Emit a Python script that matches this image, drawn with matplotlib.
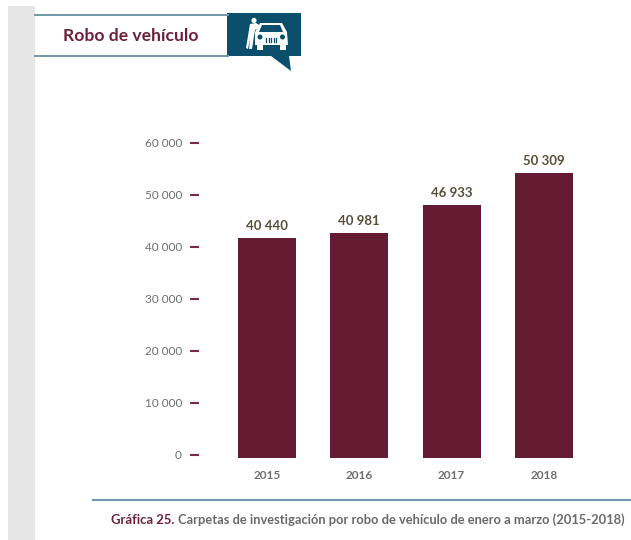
import matplotlib
matplotlib.use('Agg')
import matplotlib.pyplot as plt
from matplotlib.patches import Rectangle, Polygon, Circle

years = ['2015', '2016', '2017', '2018']
# printed labels
value_labels = ['40 440', '40 981', '46 933', '50 309']
# bar tops as drawn, read against the axis ticks (the bars start just below 0)
bar_tops = [41650, 42650, 48050, 54250]
bar_base = -700
y_ticks = [0, 10000, 20000, 30000, 40000, 50000, 60000]
y_tick_labels = ['0', '10 000', '20 000', '30 000', '40 000', '50 000', '60 000']
caption_bold = 'Gráfica 25.'
caption_rest = 'Carpetas de investigación por robo de vehículo de enero a marzo (2015-2018)'
title = 'Robo de vehículo'

W, H = 631, 540
wine = '#651c32'
teal = '#0b4f6c'
line_teal = '#6f99a8'
grey_text = '#6e6e6e'
label_col = '#574f3a'

fig = plt.figure(figsize=(W / 100, H / 100), dpi=100)

# page furniture, in pixel coordinates
bg = fig.add_axes([0, 0, 1, 1])
bg.set_xlim(0, W)
bg.set_ylim(H, 0)
bg.axis('off')
bg.add_patch(Rectangle((8, 6), 27, 534, color='#e6e6e6', lw=0))
bg.plot([35, 228], [14.5, 14.5], color=line_teal, lw=1.4)
bg.plot([35, 228], [55.5, 55.5], color=line_teal, lw=1.4)
bg.plot([93, 631], [500, 500], color=line_teal, lw=1.5)
bg.add_patch(Rectangle((227, 12.5), 74, 43.5, color=teal, lw=0))
bg.add_patch(Polygon([(271, 56), (291, 71), (289, 56)], color=teal, lw=0))
bg.text(63, 36, title, fontsize=12.6, fontweight='bold', color='#6d2138',
        family='Lato', va='center', ha='left')

# car icon
bg.add_patch(Polygon([(255, 32), (260, 23), (282, 23), (287, 32), (288, 45), (255, 45)], color='white', lw=0))
bg.add_patch(Polygon([(259, 32), (262, 25), (280, 25), (283, 32)], color=teal, lw=0))
bg.add_patch(Rectangle((257, 44), 6, 5.5, color='white', lw=0))
bg.add_patch(Rectangle((280, 44), 6, 5.5, color='white', lw=0))
bg.add_patch(Circle((260, 37), 2.5, fc=teal, ec='none'))
bg.add_patch(Circle((282.5, 37), 2.5, fc=teal, ec='none'))
for gx in (266, 268.5, 271, 273.5, 276):
    bg.plot([gx, gx], [37.5, 42], color=teal, lw=0.9)
# person leaning on the car
bg.add_patch(Circle((254, 20.5), 2.6, color='white', lw=0))
bg.add_patch(Polygon([(250, 24), (256, 23), (261, 26), (255, 30), (252, 49), (249, 49), (250, 38), (248, 49), (246, 48)],
                     color='white', lw=0))

# chart axes: y 0 at 454.5 px, 60000 at 143 px, x spans the four bars
left, right = 199, 620
ax = fig.add_axes([left / W, 1 - 454.5 / H, (right - left) / W, (454.5 - 143) / H])
ax.patch.set_alpha(0)
ax.set_ylim(0, 60000)
step = 92.3
ax.set_xlim((left - 267) / step, (right - 267) / step)
xs = list(range(len(years)))
heights = [t - bar_base for t in bar_tops]
bars = ax.bar(xs, heights, bottom=bar_base, width=58 / step, color=wine, clip_on=False)

for x, top, lab in zip(xs, bar_tops, value_labels):
    ax.annotate(lab, (x, top), xytext=(0, 4.5), textcoords='offset points', ha='center', va='bottom',
                fontsize=9.5, fontweight='bold', color=label_col, family='Lato')

for s in ax.spines.values():
    s.set_visible(False)
ax.set_yticks(y_ticks)
ax.set_yticklabels(y_tick_labels, fontsize=8.5, color=grey_text, family='Lato')
ax.tick_params(axis='y', length=6.8, width=1.5, color='#7a2a48', pad=5.5)
ax.set_xticks(xs)
ax.set_xticklabels(years, fontsize=8.5, color=grey_text, family='Lato', fontweight='bold')
ax.tick_params(axis='x', length=0, pad=11)

# caption, two runs in different colours, second run follows the first
size = 9.4
t1 = bg.text(111, 520, caption_bold, fontsize=size, fontweight='bold', color='#6d2138',
             family='Lato', va='center', ha='left')
fig.canvas.draw()
end1 = t1.get_window_extent().x1
t2 = bg.text(end1 + 3, 520, caption_rest, fontsize=9.25, fontweight='bold', color='#6a6a6a',
             family='Lato', va='center', ha='left')

fig.savefig('out.png', dpi=100)
